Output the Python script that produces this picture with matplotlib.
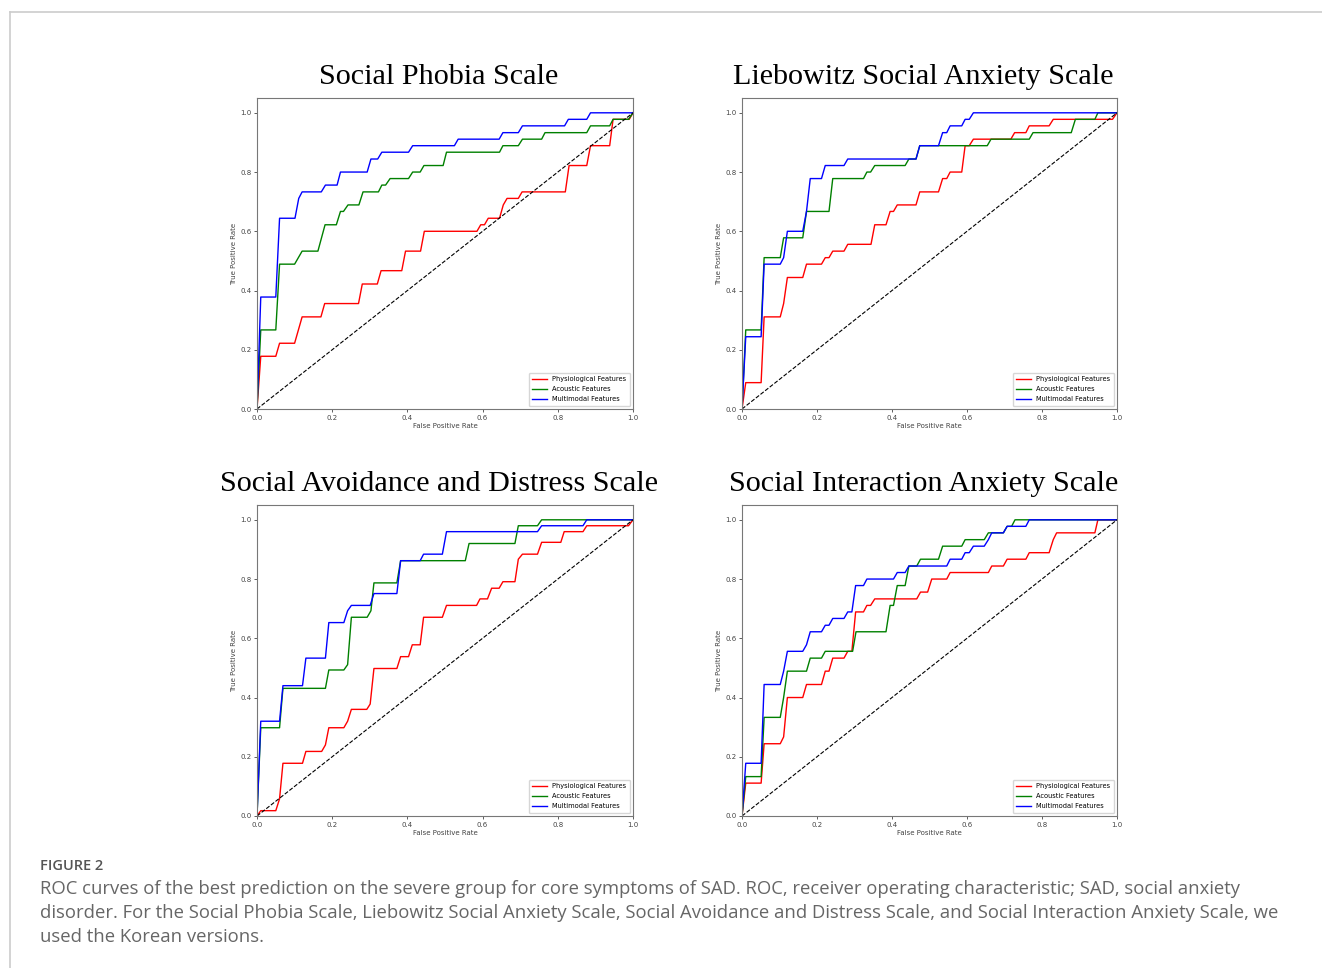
import matplotlib
matplotlib.use("Agg")
import matplotlib.pyplot as plt
from matplotlib.lines import Line2D

# panel titles
titles = ["Social Phobia Scale", "Liebowitz Social Anxiety Scale",
          "Social Avoidance and Distress Scale", "Social Interaction Anxiety Scale"]
series_names = ["Physiological Features", "Acoustic Features", "Multimodal Features"]
series_colors = ["red", "green", "blue"]

# Social Phobia Scale
sps_phys_fpr = [0, 0.01, 0.05, 0.06, 0.10, 0.12, 0.17, 0.18, 0.27, 0.28, 0.32, 0.33, 0.385, 0.395, 0.435, 0.445,
                0.585, 0.595, 0.605, 0.615, 0.645, 0.655, 0.665, 0.695, 0.705, 0.82, 0.83, 0.877, 0.887, 0.938,
                0.947, 0.99, 1.0]
sps_phys_tpr = [0, 0.178, 0.178, 0.222, 0.222, 0.311, 0.311, 0.356, 0.356, 0.422, 0.422, 0.467, 0.467, 0.533,
                0.533, 0.60, 0.60, 0.622, 0.622, 0.644, 0.644, 0.689, 0.711, 0.711, 0.733, 0.733, 0.822, 0.822,
                0.889, 0.889, 0.978, 0.978, 1.0]
sps_acou_fpr = [0, 0.01, 0.05, 0.06, 0.10, 0.12, 0.162, 0.181, 0.211, 0.222, 0.23, 0.242, 0.271, 0.282, 0.323,
                0.332, 0.342, 0.354, 0.403, 0.414, 0.434, 0.444, 0.495, 0.504, 0.645, 0.654, 0.695, 0.706, 0.757,
                0.766, 0.877, 0.887, 0.938, 0.947, 0.988, 1.0]
sps_acou_tpr = [0, 0.267, 0.267, 0.489, 0.489, 0.533, 0.533, 0.622, 0.622, 0.667, 0.667, 0.689, 0.689, 0.733,
                0.733, 0.756, 0.756, 0.778, 0.778, 0.80, 0.80, 0.822, 0.822, 0.867, 0.867, 0.889, 0.889, 0.911,
                0.911, 0.933, 0.933, 0.956, 0.956, 0.978, 0.978, 1.0]
sps_multi_fpr = [0, 0.01, 0.05, 0.06, 0.101, 0.111, 0.12, 0.171, 0.182, 0.213, 0.222, 0.293, 0.303, 0.321, 0.332,
                 0.403, 0.414, 0.525, 0.535, 0.644, 0.654, 0.695, 0.706, 0.818, 0.828, 0.877, 0.887, 1.0]
sps_multi_tpr = [0, 0.378, 0.378, 0.644, 0.644, 0.711, 0.733, 0.733, 0.756, 0.756, 0.80, 0.80, 0.844, 0.844, 0.867,
                 0.867, 0.889, 0.889, 0.911, 0.911, 0.933, 0.933, 0.956, 0.956, 0.978, 0.978, 1.0, 1.0]

# Liebowitz Social Anxiety Scale
lsas_phys_fpr = [0, 0.01, 0.051, 0.059, 0.102, 0.111, 0.121, 0.162, 0.172, 0.212, 0.222, 0.232, 0.242, 0.272,
                 0.282, 0.344, 0.354, 0.384, 0.395, 0.404, 0.414, 0.464, 0.474, 0.524, 0.535, 0.546, 0.555, 0.586,
                 0.595, 0.606, 0.617, 0.717, 0.727, 0.757, 0.766, 0.819, 0.83, 0.988, 1.0]
lsas_phys_tpr = [0, 0.089, 0.089, 0.311, 0.311, 0.356, 0.444, 0.444, 0.489, 0.489, 0.511, 0.511, 0.533, 0.533,
                 0.556, 0.556, 0.622, 0.622, 0.667, 0.667, 0.689, 0.689, 0.733, 0.733, 0.778, 0.778, 0.80, 0.80,
                 0.889, 0.889, 0.911, 0.911, 0.933, 0.933, 0.956, 0.956, 0.978, 0.978, 1.0]
lsas_acou_fpr = [0, 0.01, 0.051, 0.059, 0.102, 0.111, 0.162, 0.172, 0.232, 0.242, 0.324, 0.333, 0.343, 0.354,
                 0.435, 0.445, 0.464, 0.474, 0.654, 0.664, 0.766, 0.776, 0.878, 0.889, 0.941, 0.949, 1.0]
lsas_acou_tpr = [0, 0.267, 0.267, 0.511, 0.511, 0.578, 0.578, 0.667, 0.667, 0.778, 0.778, 0.80, 0.80, 0.822,
                 0.822, 0.844, 0.844, 0.889, 0.889, 0.911, 0.911, 0.933, 0.933, 0.978, 0.978, 1.0, 1.0]
lsas_multi_fpr = [0, 0.01, 0.051, 0.059, 0.102, 0.111, 0.121, 0.162, 0.172, 0.182, 0.212, 0.222, 0.272, 0.282,
                  0.464, 0.474, 0.524, 0.535, 0.546, 0.555, 0.586, 0.595, 0.606, 0.617, 1.0]
lsas_multi_tpr = [0, 0.244, 0.244, 0.489, 0.489, 0.511, 0.60, 0.60, 0.667, 0.778, 0.778, 0.822, 0.822, 0.844,
                  0.844, 0.889, 0.889, 0.933, 0.933, 0.956, 0.956, 0.978, 0.978, 1.0, 1.0]

# Social Avoidance and Distress Scale
sads_phys_fpr = [0, 0.01, 0.05, 0.06, 0.069, 0.121, 0.13, 0.172, 0.182, 0.191, 0.231, 0.241, 0.251, 0.292, 0.301,
                 0.311, 0.372, 0.382, 0.403, 0.413, 0.434, 0.443, 0.493, 0.504, 0.584, 0.593, 0.613, 0.624, 0.644,
                 0.654, 0.686, 0.695, 0.706, 0.746, 0.757, 0.808, 0.817, 0.867, 0.877, 0.988, 1.0]
sads_phys_tpr = [0, 0.018, 0.018, 0.058, 0.178, 0.178, 0.218, 0.218, 0.24, 0.298, 0.298, 0.32, 0.36, 0.36, 0.378,
                 0.498, 0.498, 0.538, 0.538, 0.578, 0.578, 0.671, 0.671, 0.711, 0.711, 0.733, 0.733, 0.769, 0.769,
                 0.791, 0.791, 0.867, 0.884, 0.884, 0.924, 0.924, 0.96, 0.96, 0.98, 0.98, 1.0]
sads_acou_fpr = [0, 0.01, 0.06, 0.069, 0.182, 0.191, 0.231, 0.241, 0.251, 0.293, 0.303, 0.311, 0.372, 0.382,
                 0.554, 0.564, 0.686, 0.695, 0.746, 0.757, 1.0]
sads_acou_tpr = [0, 0.298, 0.298, 0.431, 0.431, 0.493, 0.493, 0.511, 0.671, 0.671, 0.693, 0.787, 0.787, 0.862,
                 0.862, 0.92, 0.92, 0.98, 0.98, 1.0, 1.0]
sads_multi_fpr = [0, 0.01, 0.06, 0.069, 0.121, 0.13, 0.182, 0.191, 0.231, 0.241, 0.251, 0.301, 0.311, 0.372,
                  0.382, 0.434, 0.443, 0.493, 0.504, 0.746, 0.757, 0.867, 0.877, 1.0]
sads_multi_tpr = [0, 0.32, 0.32, 0.44, 0.44, 0.533, 0.533, 0.653, 0.653, 0.693, 0.711, 0.711, 0.751, 0.751,
                  0.862, 0.862, 0.884, 0.884, 0.96, 0.96, 0.98, 0.98, 1.0, 1.0]

# Social Interaction Anxiety Scale
sias_phys_fpr = [0, 0.01, 0.051, 0.059, 0.102, 0.111, 0.121, 0.162, 0.172, 0.212, 0.222, 0.232, 0.242, 0.272,
                 0.282, 0.293, 0.303, 0.324, 0.333, 0.343, 0.354, 0.466, 0.476, 0.495, 0.506, 0.546, 0.555, 0.657,
                 0.666, 0.697, 0.707, 0.757, 0.766, 0.819, 0.83, 0.839, 0.941, 0.949, 1.0]
sias_phys_tpr = [0, 0.111, 0.111, 0.244, 0.244, 0.267, 0.40, 0.40, 0.444, 0.444, 0.489, 0.489, 0.533, 0.533,
                 0.556, 0.556, 0.689, 0.689, 0.711, 0.711, 0.733, 0.733, 0.756, 0.756, 0.80, 0.80, 0.822, 0.822,
                 0.844, 0.844, 0.867, 0.867, 0.889, 0.889, 0.933, 0.956, 0.956, 1.0, 1.0]
sias_acou_fpr = [0, 0.01, 0.051, 0.059, 0.102, 0.111, 0.121, 0.172, 0.182, 0.212, 0.222, 0.295, 0.304, 0.384,
                 0.395, 0.404, 0.414, 0.435, 0.445, 0.466, 0.476, 0.524, 0.535, 0.586, 0.595, 0.646, 0.657, 0.697,
                 0.707, 0.719, 0.728, 1.0]
sias_acou_tpr = [0, 0.133, 0.133, 0.333, 0.333, 0.40, 0.489, 0.489, 0.533, 0.533, 0.556, 0.556, 0.622, 0.622,
                 0.711, 0.711, 0.778, 0.778, 0.844, 0.844, 0.867, 0.867, 0.911, 0.911, 0.933, 0.933, 0.956, 0.956,
                 0.978, 0.978, 1.0, 1.0]
sias_multi_fpr = [0, 0.01, 0.051, 0.059, 0.102, 0.111, 0.121, 0.162, 0.172, 0.182, 0.212, 0.222, 0.232, 0.242,
                  0.272, 0.282, 0.293, 0.303, 0.324, 0.333, 0.404, 0.414, 0.435, 0.445, 0.546, 0.555, 0.586, 0.595,
                  0.606, 0.617, 0.646, 0.657, 0.666, 0.697, 0.707, 0.757, 0.766, 1.0]
sias_multi_tpr = [0, 0.178, 0.178, 0.444, 0.444, 0.489, 0.556, 0.556, 0.578, 0.622, 0.622, 0.644, 0.644, 0.667,
                  0.667, 0.689, 0.689, 0.778, 0.778, 0.80, 0.80, 0.822, 0.822, 0.844, 0.844, 0.867, 0.867, 0.889,
                  0.889, 0.911, 0.911, 0.933, 0.956, 0.956, 0.978, 0.978, 1.0, 1.0]

panels = [
    [(sps_phys_fpr, sps_phys_tpr), (sps_acou_fpr, sps_acou_tpr), (sps_multi_fpr, sps_multi_tpr)],
    [(lsas_phys_fpr, lsas_phys_tpr), (lsas_acou_fpr, lsas_acou_tpr), (lsas_multi_fpr, lsas_multi_tpr)],
    [(sads_phys_fpr, sads_phys_tpr), (sads_acou_fpr, sads_acou_tpr), (sads_multi_fpr, sads_multi_tpr)],
    [(sias_phys_fpr, sias_phys_tpr), (sias_acou_fpr, sias_acou_tpr), (sias_multi_fpr, sias_multi_tpr)],
]

caption_label = "FIGURE 2"
caption_lines = [
    "ROC curves of the best prediction on the severe group for core symptoms of SAD. ROC, receiver operating characteristic; SAD, social anxiety",
    "disorder. For the Social Phobia Scale, Liebowitz Social Anxiety Scale, Social Avoidance and Distress Scale, and Social Interaction Anxiety Scale, we",
    "used the Korean versions.",
]

W, H = 1322, 968
fig = plt.figure(figsize=(W / 100, H / 100), dpi=100)

# light frame around the figure block
fig.add_artist(Line2D([10 / W, 10 / W], [0, 1 - 12 / H], color="#cccccc", lw=1.2))
fig.add_artist(Line2D([10 / W, 1], [1 - 12 / H, 1 - 12 / H], color="#cccccc", lw=1.2))

# axes boxes in pixels: left, right, top, bottom
boxes = [(257, 633, 98, 409), (742, 1117, 98, 409), (257, 633, 505, 816), (742, 1117, 505, 816)]

for i, (l, r, t, b) in enumerate(boxes):
    ax = fig.add_axes([l / W, 1 - b / H, (r - l) / W, (b - t) / H])
    for (fpr, tpr), name, col in zip(panels[i], series_names, series_colors):
        ax.plot(fpr, tpr, color=col, lw=1.0, label=name)
    ax.plot([0, 1], [0, 1], "k--", lw=0.8)
    ax.set_xlim(0, 1)
    ax.set_ylim(0, 1.05)
    ax.set_xticks([0, 0.2, 0.4, 0.6, 0.8, 1.0])
    ax.set_yticks([0, 0.2, 0.4, 0.6, 0.8, 1.0])
    ax.tick_params(labelsize=5, length=2.5, width=0.6, pad=1.5, colors="#444444")
    for s in ax.spines.values():
        s.set_color("#777777")
        s.set_linewidth(0.8)
    ax.set_xlabel("False Positive Rate", fontsize=5, labelpad=1.5, color="#444444")
    ax.set_ylabel("True Positive Rate", fontsize=5, labelpad=2, color="#444444")
    ax.legend(loc="lower right", fontsize=4.75, handlelength=2.2, borderaxespad=0.45,
              labelspacing=0.6, borderpad=0.55)
    # title baseline sits 14 px above the axes top
    ax.text(0.484, 1 + 14 / (b - t), titles[i], transform=ax.transAxes, ha="center",
            va="baseline", fontsize=21.7, family="Liberation Serif")

fig.text(40 / W, 1 - 866 / H, caption_label, fontsize=10.5, family="Open Sans", weight="semibold",
         color="#555555", va="center")
for k, line in enumerate(caption_lines):
    fig.text(40 / W, 1 - (889 + 24 * k) / H, line, fontsize=13.3, family="Open Sans",
             color="#666666", va="center")

fig.savefig("out.png", dpi=100)
